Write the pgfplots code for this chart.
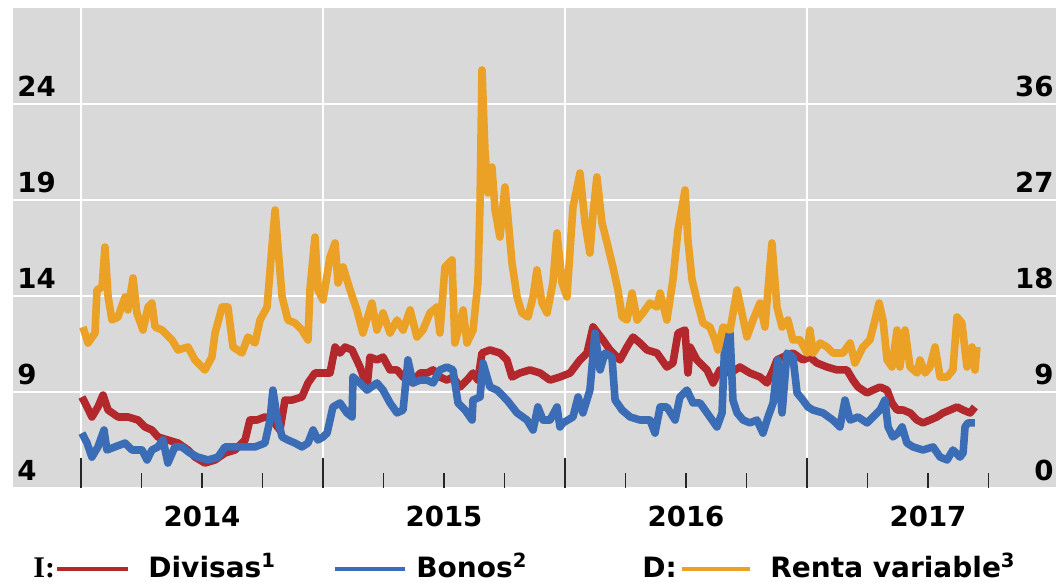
\documentclass[border=0pt]{standalone}
\usepackage{fontspec}
\setmainfont{DejaVu Sans}
\newfontfamily\serifbold{Liberation Serif}
\usepackage{pgfplots}
\usepackage{pgfplotstable}
\pgfplotsset{compat=1.18}

\definecolor{fondo}{HTML}{D9D9D9}
\definecolor{rojo}{HTML}{B3282D}
\definecolor{azul}{HTML}{3A6DB5}
\definecolor{naranja}{HTML}{EBA125}

\newcommand{\tickfont}{\fontsize{13.8}{14}\selectfont\bfseries}
\newcommand{\legfont}{\fontsize{14}{15}\selectfont\bfseries}

% I: Divisas (eje izquierdo)
\pgfplotstableread{
x y
2014.004 8.74
2014.025 8.22
2014.045 7.70
2014.070 8.22
2014.091 8.84
2014.112 8.06
2014.153 7.70
2014.194 7.70
2014.236 7.54
2014.264 7.18
2014.293 7.02
2014.318 6.66
2014.359 6.50
2014.401 6.34
2014.442 5.98
2014.471 5.61
2014.512 5.30
2014.554 5.46
2014.595 5.82
2014.636 5.98
2014.678 6.50
2014.698 7.54
2014.727 7.54
2014.760 7.70
2014.789 7.54
2014.822 7.02
2014.843 8.58
2014.872 8.58
2014.913 8.74
2014.938 9.47
2014.967 9.99
2015.000 9.99
2015.029 9.99
2015.050 11.34
2015.070 11.03
2015.091 11.34
2015.120 11.19
2015.153 10.30
2015.182 9.26
2015.194 10.82
2015.223 10.67
2015.248 10.82
2015.277 10.15
2015.306 10.15
2015.331 9.78
2015.372 9.47
2015.401 9.99
2015.430 9.99
2015.455 10.15
2015.483 9.78
2015.512 9.62
2015.537 9.78
2015.566 9.26
2015.595 9.62
2015.620 9.99
2015.640 9.62
2015.657 11.03
2015.690 11.19
2015.731 11.03
2015.760 10.67
2015.781 9.78
2015.814 9.99
2015.855 10.15
2015.897 9.99
2015.938 9.62
2015.979 9.78
2016.021 9.99
2016.062 10.67
2016.091 11.03
2016.116 12.39
2016.157 11.71
2016.186 11.19
2016.227 10.67
2016.256 11.34
2016.281 11.86
2016.310 11.55
2016.339 11.19
2016.380 11.03
2016.421 10.30
2016.446 10.51
2016.467 12.07
2016.496 12.23
2016.508 9.99
2016.517 11.34
2016.545 10.67
2016.587 10.15
2016.612 9.47
2016.640 10.15
2016.682 9.99
2016.723 10.30
2016.764 9.99
2016.806 9.78
2016.835 9.47
2016.860 10.15
2016.876 10.67
2016.901 10.82
2016.942 11.03
2016.983 10.67
2017.012 10.82
2017.041 10.51
2017.083 10.30
2017.124 10.15
2017.165 10.15
2017.190 9.62
2017.211 9.26
2017.248 8.95
2017.273 9.10
2017.302 9.26
2017.331 9.10
2017.351 8.43
2017.372 8.06
2017.397 8.06
2017.426 7.91
2017.455 7.54
2017.479 7.39
2017.508 7.54
2017.537 7.70
2017.562 7.91
2017.591 8.06
2017.620 8.22
2017.645 8.06
2017.674 7.91
2017.694 8.22
}\divisas

% I: Bonos (eje izquierdo)
\pgfplotstableread{
x y
2014.004 6.86
2014.025 6.34
2014.045 5.61
2014.070 6.14
2014.095 7.02
2014.107 5.98
2014.140 6.14
2014.182 6.34
2014.211 5.98
2014.252 5.98
2014.273 5.46
2014.293 5.98
2014.318 6.14
2014.339 6.50
2014.359 5.30
2014.388 6.14
2014.417 6.14
2014.450 5.82
2014.483 5.61
2014.525 5.46
2014.566 5.61
2014.595 6.14
2014.636 6.14
2014.678 6.14
2014.719 6.14
2014.760 6.34
2014.781 7.54
2014.793 9.10
2014.810 7.70
2014.831 6.66
2014.855 6.50
2014.884 6.34
2014.913 6.14
2014.938 6.34
2014.959 7.02
2014.979 6.50
2015.000 6.66
2015.017 6.86
2015.041 8.22
2015.070 8.43
2015.099 7.91
2015.120 7.70
2015.124 9.78
2015.153 9.47
2015.182 9.10
2015.223 9.47
2015.248 9.10
2015.277 8.43
2015.306 7.91
2015.331 8.06
2015.351 10.67
2015.372 9.47
2015.401 9.62
2015.430 9.62
2015.455 9.47
2015.483 10.15
2015.512 10.30
2015.537 10.15
2015.558 8.43
2015.587 8.06
2015.616 7.54
2015.620 8.58
2015.649 8.74
2015.661 10.51
2015.690 9.26
2015.719 9.10
2015.760 8.58
2015.802 7.91
2015.843 7.54
2015.868 7.02
2015.888 8.22
2015.909 7.54
2015.938 7.54
2015.967 8.22
2015.979 7.18
2015.992 7.39
2016.033 7.70
2016.054 8.74
2016.074 7.91
2016.103 9.10
2016.124 12.07
2016.145 10.15
2016.165 11.03
2016.194 10.82
2016.207 8.58
2016.236 8.06
2016.269 7.70
2016.310 7.54
2016.351 7.54
2016.372 6.86
2016.393 8.22
2016.421 8.22
2016.455 7.54
2016.475 8.74
2016.504 9.10
2016.529 8.43
2016.558 8.43
2016.587 7.91
2016.628 7.18
2016.649 7.91
2016.661 11.86
2016.682 12.07
2016.694 8.58
2016.711 7.91
2016.736 7.54
2016.764 7.39
2016.793 7.54
2016.818 6.86
2016.839 7.70
2016.860 8.43
2016.880 10.67
2016.897 7.91
2016.917 11.03
2016.942 10.82
2016.959 8.95
2016.983 8.58
2017.004 8.22
2017.025 8.06
2017.066 7.91
2017.107 7.54
2017.136 7.18
2017.157 8.58
2017.178 7.54
2017.211 7.70
2017.248 7.39
2017.273 7.70
2017.302 8.06
2017.322 8.58
2017.335 7.18
2017.355 6.66
2017.376 6.86
2017.393 7.18
2017.413 6.34
2017.438 6.14
2017.479 5.98
2017.521 6.14
2017.550 5.61
2017.579 5.46
2017.603 5.98
2017.632 5.61
2017.645 5.82
2017.653 7.18
2017.665 7.39
2017.694 7.39
}\bonos

% D: Renta variable (eje derecho)
\pgfplotstableread{
x y
2014.008 15.09
2014.029 13.59
2014.058 14.53
2014.066 18.56
2014.087 18.84
2014.099 22.59
2014.112 17.91
2014.128 15.75
2014.153 16.03
2014.182 17.91
2014.194 16.69
2014.215 19.69
2014.231 16.41
2014.256 14.81
2014.277 16.97
2014.293 17.34
2014.306 15.09
2014.335 14.81
2014.376 13.88
2014.401 12.94
2014.442 13.22
2014.471 12.00
2014.512 11.06
2014.541 12.28
2014.554 14.53
2014.583 16.97
2014.607 16.97
2014.628 13.22
2014.665 12.66
2014.690 14.16
2014.719 13.59
2014.740 15.75
2014.769 16.97
2014.789 22.59
2014.802 26.06
2014.814 22.59
2014.831 17.91
2014.855 15.75
2014.884 15.47
2014.913 14.81
2014.938 13.88
2014.946 18.56
2014.967 23.53
2014.979 18.56
2015.000 17.63
2015.029 21.66
2015.050 22.97
2015.062 19.22
2015.083 20.72
2015.112 18.56
2015.140 16.69
2015.165 14.53
2015.202 17.34
2015.223 14.81
2015.248 16.41
2015.277 14.53
2015.306 15.75
2015.331 14.81
2015.360 16.69
2015.388 14.16
2015.413 14.81
2015.442 16.41
2015.471 16.97
2015.483 14.53
2015.504 20.72
2015.533 21.38
2015.545 13.59
2015.566 15.47
2015.579 16.69
2015.595 13.59
2015.620 14.81
2015.640 19.22
2015.649 26.72
2015.657 39.19
2015.669 31.69
2015.682 27.66
2015.698 30.09
2015.711 26.06
2015.731 23.53
2015.752 28.22
2015.764 25.41
2015.781 21.09
2015.802 17.91
2015.822 16.41
2015.847 16.03
2015.868 17.91
2015.884 20.44
2015.905 17.34
2015.926 16.41
2015.950 19.22
2015.967 23.91
2015.988 19.22
2016.008 17.91
2016.033 26.34
2016.062 29.53
2016.083 24.84
2016.103 22.03
2016.116 25.78
2016.132 29.16
2016.153 24.84
2016.174 22.97
2016.198 20.72
2016.219 18.56
2016.236 16.03
2016.256 15.75
2016.277 18.28
2016.298 15.75
2016.322 16.41
2016.351 17.34
2016.380 16.97
2016.393 18.28
2016.421 15.75
2016.446 19.50
2016.467 24.19
2016.496 27.94
2016.508 23.25
2016.525 19.50
2016.545 17.63
2016.570 15.47
2016.599 15.09
2016.620 13.88
2016.632 12.94
2016.653 15.09
2016.682 14.81
2016.711 18.56
2016.731 16.41
2016.752 14.16
2016.777 15.75
2016.806 17.34
2016.826 15.09
2016.855 22.97
2016.876 16.97
2016.897 15.09
2016.921 15.75
2016.942 13.88
2016.971 13.88
2017.000 12.66
2017.012 14.81
2017.025 12.66
2017.054 13.59
2017.083 13.22
2017.107 12.66
2017.149 12.66
2017.178 13.59
2017.198 11.72
2017.231 13.22
2017.260 13.88
2017.281 15.75
2017.298 17.34
2017.314 15.75
2017.331 12.00
2017.351 11.34
2017.372 14.81
2017.384 11.34
2017.405 14.81
2017.426 11.34
2017.455 10.78
2017.467 12.00
2017.488 10.78
2017.508 11.34
2017.529 13.22
2017.550 10.41
2017.579 10.41
2017.603 11.06
2017.620 16.03
2017.640 15.47
2017.661 11.34
2017.682 13.22
2017.694 11.06
2017.702 13.22
}\renta

\begin{document}
\begin{tikzpicture}
% eje izquierdo: Divisas y Bonos
\begin{axis}[
    scale only axis,
    width=521.5pt, height=240pt,
    xmin=2013.719, xmax=2018.029,
    ymin=4, ymax=29,
    axis background/.style={fill=fondo},
    axis line style={draw=none},
    xtick={2014,2015,2016,2017},
    minor xtick={2014.25,2014.5,2014.75,2015.25,2015.5,2015.75,2016.25,2016.5,2016.75,2017.25,2017.5,2017.75},
    xticklabels={},
    xtick pos=bottom,
    tick align=inside,
    xtick style={black!85, line width=0.9pt},
    major tick length=15pt,
    minor tick length=7.5pt,
    ytick={4,9,14,19,24},
    yticklabels={4,9,14,19,24},
    ytick style={draw=none},
    yticklabel pos=left,
    yticklabel style={anchor=south west, inner sep=0pt, xshift=2pt, yshift=3.5pt, font=\tickfont},
    /pgf/number format/assume math mode=true,
    xmajorgrids, ymajorgrids,
    major grid style={white, line width=0.9pt},
    line join=round,
]
\addplot[rojo, line width=3.8pt] table {\divisas};
\addplot[azul, line width=3.8pt] table {\bonos};
\end{axis}
% eje derecho: Renta variable
\begin{axis}[
    scale only axis,
    width=521.5pt, height=240pt,
    xmin=2013.719, xmax=2018.029,
    ymin=0, ymax=45,
    axis line style={draw=none},
    xtick={2014.5,2015.5,2016.5,2017.5},
    xticklabels={2014,2015,2016,2017},
    xtick style={draw=none},
    xticklabel style={anchor=base, inner sep=0pt, yshift=-19.5pt, font=\tickfont},
    ytick={0,9,18,27,36},
    yticklabels={0,9,18,27,36},
    ytick style={draw=none},
    yticklabel pos=right,
    yticklabel style={anchor=south east, inner sep=0pt, xshift=-1pt, yshift=3.5pt, font=\tickfont},
    /pgf/number format/assume math mode=true,
    line join=round,
]
\addplot[naranja, line width=3.8pt] table {\renta};
\end{axis}
% leyenda
\node[anchor=base west, inner sep=0pt, font=\fontsize{15}{15}\selectfont\serifbold\bfseries] at (10pt,-45pt) {I:};
\draw[rojo, line width=2pt] (22pt,-40.5pt) -- (57.5pt,-40.5pt);
\node[anchor=base west, inner sep=0pt, font=\legfont] at (67.5pt,-45pt) {Divisas\textsuperscript{1}};
\draw[azul, line width=2pt] (161pt,-40.5pt) -- (196pt,-40.5pt);
\node[anchor=base west, inner sep=0pt, font=\legfont] at (201.5pt,-45pt) {Bonos\textsuperscript{2}};
\node[anchor=base west, inner sep=0pt, font=\legfont] at (314.5pt,-45pt) {D:};
\draw[naranja, line width=2pt] (334.5pt,-40.5pt) -- (368.5pt,-40.5pt);
\node[anchor=base west, inner sep=0pt, font=\legfont] at (378.5pt,-45pt) {Renta variable\textsuperscript{3}};
\pgfresetboundingbox
\path[use as bounding box] (-6.5pt,-47.5pt) rectangle (521.5pt,244pt);
\end{tikzpicture}
\end{document}
